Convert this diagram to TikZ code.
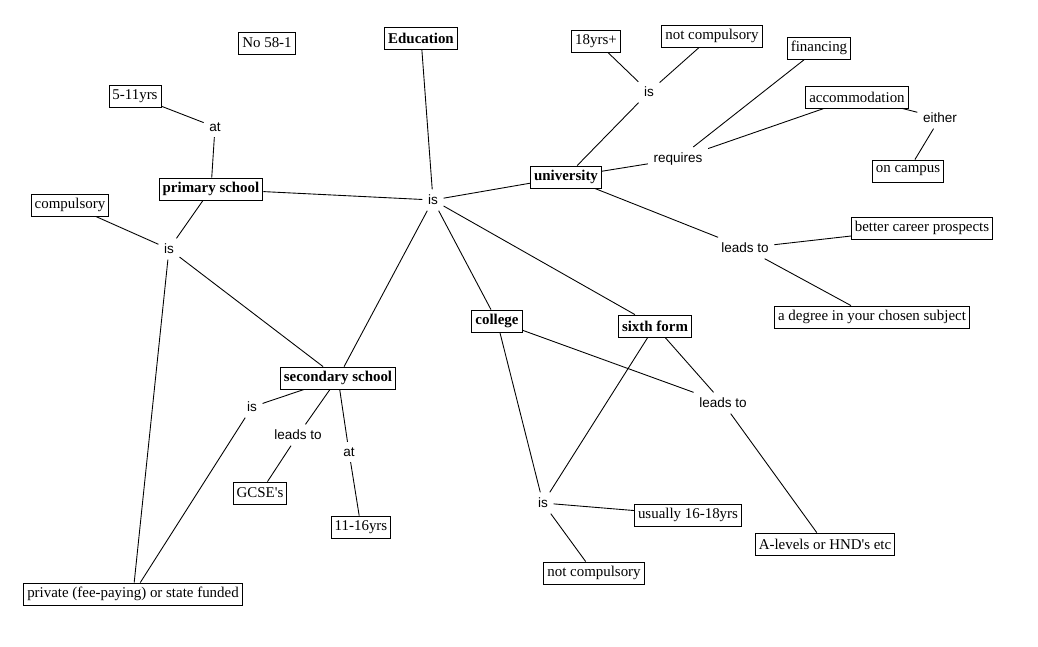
\documentclass[tikz,border=0pt]{standalone}
\usepackage{fontspec}
\setmainfont{Liberation Serif}
\newfontfamily\linkfont{Liberation Sans}
\begin{document}
\begin{tikzpicture}[x=0.02cm,y=-0.02cm,line width=0.5pt,
   concept/.style={draw,inner xsep=2pt,inner ysep=0pt,minimum height=12.5pt,font=\fontsize{8.5}{10}\selectfont},
   main/.style={concept,font=\fontsize{8.5}{10}\selectfont\bfseries},
   link/.style={inner sep=3pt,font=\linkfont\fontsize{7.7}{9}\selectfont}]
   \useasboundingbox (0,0) rectangle (1038,646);

   \node[concept] (no) at (267,43) {No 58-1};
   \node[main] (edu) at (421,38) {Education};
   \node[link] (isedu) at (433,200) {is};

   \node[main] (uni) at (566,177) {university};
   \node[link] (isuni) at (649,92) {is};
   \node[concept] (age18) at (596,41) {18yrs+};
   \node[concept] (notcomp1) at (712,36) {not compulsory};
   \node[link] (req) at (678,159) {requires};
   \node[concept] (fin) at (819,48) {financing};
   \node[concept] (acc) at (857,97) {accommodation};
   \node[link] (either) at (940,118) {either};
   \node[concept] (campus) at (908,171) {on campus};
   \node[link] (leadsuni) at (745,248) {leads to};
   \node[concept] (career) at (922,228) {better career prospects};
   \node[concept] (degree) at (872,317) {a degree in your chosen subject};

   \node[main] (prim) at (211,189) {primary school};
   \node[link] (atprim) at (215,127) {at};
   \node[concept] (age5) at (135,96) {5-11yrs};
   \node[link] (isprim) at (169,249) {is};
   \node[concept] (comp) at (70,205) {compulsory};

   \node[main] (sec) at (338,378) {secondary school};
   \node[link] (issec) at (252,407) {is};
   \node[link] (leadssec) at (298,435) {leads to};
   \node[link] (atsec) at (349,452) {at};
   \node[concept] (gcse) at (260,493) {GCSE\textquotesingle s};
   \node[concept] (age11) at (361,527) {11-16yrs};
   \node[concept] (priv) at (133,594) {private (fee-paying) or state funded};

   \node[main] (coll) at (497,321) {college};
   \node[main] (sixth) at (655,326) {sixth form};
   \node[link] (leadsmid) at (723,403) {leads to};
   \node[concept] (alev) at (825,544) {A-levels or HND\textquotesingle s etc};
   \node[link] (iscoll) at (543,503) {is};
   \node[concept] (age16) at (688,515) {usually 16-18yrs};
   \node[concept] (notcomp2) at (594,573) {not compulsory};

   \draw (edu) -- (isedu);
   \draw (isedu) -- (prim);
   \draw (isedu) -- (uni);
   \draw (isedu) -- (sec);
   \draw (isedu) -- (coll);
   \draw (isedu) -- (sixth);

   \draw (uni) -- (isuni);
   \draw (isuni) -- (age18);
   \draw (isuni) -- (notcomp1);
   \draw (uni) -- (req);
   \draw (req) -- (fin);
   \draw (req) -- (acc);
   \draw (acc) -- (either);
   \draw (either) -- (campus);
   \draw (uni) -- (leadsuni);
   \draw (leadsuni) -- (career);
   \draw (leadsuni) -- (degree);

   \draw (prim) -- (atprim);
   \draw (atprim) -- (age5);
   \draw (prim) -- (isprim);
   \draw (isprim) -- (comp);
   \draw (isprim) -- (sec);
   \draw (isprim) -- (priv);

   \draw (sec) -- (issec);
   \draw (issec) -- (priv);
   \draw (sec) -- (leadssec);
   \draw (leadssec) -- (gcse);
   \draw (sec) -- (atsec);
   \draw (atsec) -- (age11);

   \draw (coll) -- (leadsmid);
   \draw (sixth) -- (leadsmid);
   \draw (leadsmid) -- (alev);
   \draw (coll) -- (iscoll);
   \draw (sixth) -- (iscoll);
   \draw (iscoll) -- (age16);
   \draw (iscoll) -- (notcomp2);
\end{tikzpicture}
\end{document}
